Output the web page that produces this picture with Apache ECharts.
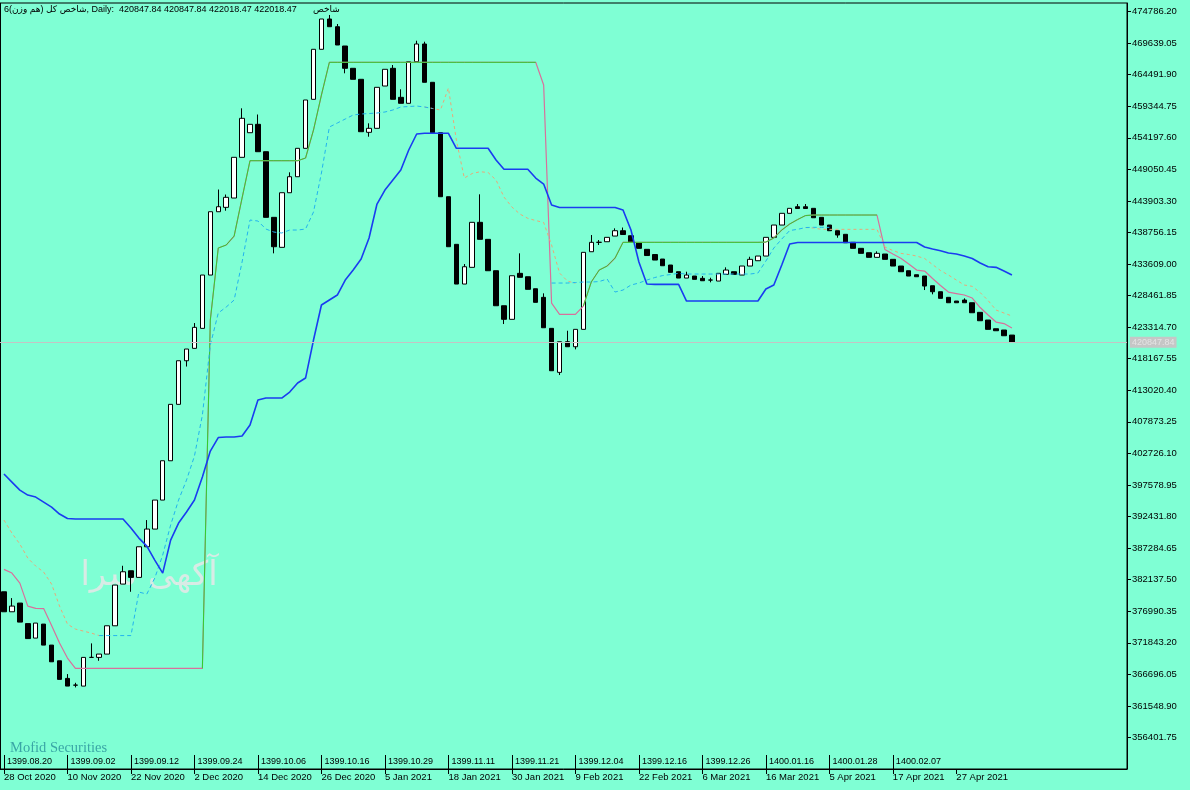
<!DOCTYPE html>
<html>
<head>
<meta charset="utf-8">
<script src="https://cdn.jsdelivr.net/npm/echarts/dist/echarts.min.js"></script>
<style>
html,body{margin:0;padding:0;background:#7fffd4;}
#chart{width:1190px;height:790px;}
</style>
</head>
<body>
<div id="chart"></div>
<script>
// ---------------- DATA ----------------
const gregLabels = ['28 Oct 2020','10 Nov 2020','22 Nov 2020','2 Dec 2020','14 Dec 2020','26 Dec 2020','5 Jan 2021','18 Jan 2021','30 Jan 2021','9 Feb 2021','22 Feb 2021','6 Mar 2021','16 Mar 2021','5 Apr 2021','17 Apr 2021','27 Apr 2021'];
const persianLabels = ['1399.08.20','1399.09.02','1399.09.12','1399.09.24','1399.10.06','1399.10.16','1399.10.29','1399.11.11','1399.11.21','1399.12.04','1399.12.16','1399.12.26','1400.01.16','1400.01.28','1400.02.07'];
const BARS_PER_LABEL = 8;
const SLOT_COUNT = 142;

const opens = [380156,376894,378313,374969,372604,374888,371462,368902,366031,364938,
364775,369456,369456,369995,374610,381412,383581,382504,387495,390382,
395112,401522,410721,417832,419854,423116,431809,442134,442851,444368,
451006,455019,456389,451920,441220,436327,445233,447842,452474,460466,
468621,473563,472307,469159,465522,463728,455084,455736,462635,465522,
460792,459814,466599,469486,463239,455019,444580,436817,430342,433065,
440405,437632,432511,426802,424584,432087,431532,429575,428172,423116,
415940,420931,420115,422953,435610,437143,437241,438170,439035,438219,
437029,436001,435153,434419,433441,432348,431320,431646,431271,430994,
430831,431924,432348,431809,433277,434142,434908,437958,439964,441873,
442949,442949,442688,441220,439964,439035,438448,437143,436164,435447,
434696,435235,434370,433277,432511,431858,431646,430064,429086,428172,
427569,427732,427292,425726,424470,423051,422839,422018.47];
const highs = [380156,379128,378313,374969,375051,374888,371462,368902,366733,365314,
369456,371740,369995,374610,381249,384396,383581,387495,391850,395112,
401522,410721,417832,419740,423981,431809,442134,445754,444939,451006,
458998,456389,457987,451920,441220,445233,448560,452474,460352,468621,
473563,474216,472748,469159,465522,463728,456552,462423,465359,466060,
462097,466599,470024,469861,463239,455019,444580,436817,433604,440405,
444972,437632,432511,426802,431695,435349,431532,429575,428825,423116,
420931,422725,422953,435512,438334,437518,437958,439426,439557,438219,
437029,436001,435153,434419,433441,432348,432348,431646,431646,431369,
432087,433065,432348,433277,434794,434908,437958,439964,441873,442688,
443390,443390,442688,441220,439964,439035,438448,437143,436164,435447,
435675,435235,434370,433277,432511,431858,431646,430064,429086,428172,
427569,428009,427292,425726,424470,423051,422839,422018.47];
const lows = [376894,376894,375214,372523,372604,371462,368739,365868,364775,364563,
364775,369456,368902,369995,374610,381412,380156,382504,387495,390382,
395112,401522,410721,416886,419854,423116,431809,442134,442297,444368,
451006,455019,451920,441220,435349,436327,445233,447842,452474,460466,
468621,472307,469322,464707,463728,455182,454366,455736,462635,460466,
459814,459814,466599,463239,455019,444580,436425,430342,430342,433065,
437632,432511,426802,423818,424584,431434,429477,427357,423214,416201,
415500,420115,419691,422953,435610,436703,437241,438170,438415,437192,
436164,434990,434256,433326,432250,431320,431320,431108,430880,430619,
430831,431924,431924,431809,433277,434142,434908,437958,439964,441873,
442656,442656,441154,439964,439035,437893,437078,436164,435349,434696,
434696,434370,433277,432348,431646,431532,429363,428662,428009,427292,
427292,427292,425661,424356,422953,422725,421909,420847.84];
const closes = [376894,377823,375214,372523,375051,371462,368739,365868,364775,364930,
369456,369456,369995,374610,381249,383418,382504,387495,390382,395112,
401522,410721,417832,419740,423279,431809,442134,442949,444482,451006,
457367,456389,451920,441220,436425,445233,447842,452474,460352,468621,
473563,472307,469322,465522,463728,455182,455736,462423,465359,460466,
459814,466599,469486,463239,455019,444580,436425,430342,433163,440405,
437632,432511,426802,424584,431695,431434,429477,427357,423214,416201,
420931,420115,422953,435512,437143,437150,437958,439035,438415,437192,
436164,434990,434256,433326,432250,431320,431809,431108,430880,430990,
432087,432625,431924,433277,434370,434908,437958,439964,441873,442688,
442656,442656,441154,439964,439035,438334,437078,436164,435349,434696,
435349,434370,433277,432348,431646,431532,430015,429086,428009,427292,
427292,427292,425661,424356,422953,422725,421909,420847.84];
const lastPrice = 420847.84;

// Indicator lines (one value per bar, null where the line is not drawn)
const blueLine = [399353,398048,396743,395928,395601,394786,393970,392829,392095,392013,
392013,392013,392013,392013,392013,392013,390545,388914,387609,385326,
383206,388588,391361,393155,395112,398863,403104,405306,405387,405387,
405550,407345,411422,411748,411748,411748,412727,414195,415010,421208,
426916,427732,428548,430994,432625,434419,437844,443390,445673,447304,
448935,452197,454807,454921,454921,454921,454921,452474,452474,452474,
452474,452474,450566,449049,449049,449049,449049,447630,446652,443227,
442819,442819,442819,442819,442819,442819,442819,442819,442411,439149,
433930,430342,430293,430293,430293,430293,427569,427569,427569,427569,
427569,427569,427569,427569,427569,427569,429526,430179,433441,436866,
437110,437110,437110,437110,437110,437110,437110,437110,437110,437110,
437110,437110,437110,437110,437110,437110,436376,436050,435773,435398,
435235,434908,434501,433767,433163,433065,432462,431809];
const pinkLine = [383809,383206,381575,377823,377448,377416,374643,371789,369342,367661,
367661,367661,367661,367661,367661,367661,367661,367661,367661,367661,
367661,367661,367661,367661,367661,367661,424470,436213,436703,438170,
444368,450452,450452,450452,450452,450452,450452,450452,450892,455459,
461167,466501,466501,466501,466501,466501,466501,466501,466501,466501,
466501,466501,466501,466501,466501,466501,466501,466501,466501,466501,
466501,466501,466501,466501,466501,466501,466501,466501,462798,427243,
425400,425400,425400,426753,430668,432625,433277,434582,437143,437143,
437143,437143,437143,437143,437143,437143,437143,437143,437143,437143,
437143,437143,437143,437143,437143,437143,437192,437844,439149,440128,
440861,441514,441596,441596,441596,441596,441596,441596,441596,441596,
441596,435968,435235,434533,433604,432625,432462,431239,430097,429037,
428792,428548,428058,426509,425286,424144,423899,423165];
const greenLine = [null,null,null,null,null,null,null,null,null,null,
null,null,null,null,null,null,null,null,null,null,
null,null,null,null,null,367661,424470,436213,436703,438170,
444368,450452,450452,450452,450452,450452,450452,450452,450892,455459,
461167,466501,466501,466501,466501,466501,466501,466501,466501,466501,
466501,466501,466501,466501,466501,466501,466501,466501,466501,466501,
466501,466501,466501,466501,466501,466501,466501,466501,null,null,
null,null,null,426753,430668,432625,433277,434582,437143,437143,
437143,437143,437143,437143,437143,437143,437143,437143,437143,437143,
437143,437143,437143,437143,437143,437143,437192,437844,439149,440128,
440861,441514,441596,441596,441596,441596,441596,441596,441596,441596,
441596,null,null,null,null,null,null,null,null,null,
null,null,null,null,null,null,null,null];
const cyanLine = [null,null,null,null,null,null,null,null,null,null,
null,null,373012,373012,373012,373012,373012,380107,379781,382390,
386141,391034,395112,398374,402288,408975,420392,425612,426590,427732,
433930,440780,440617,439312,438823,438660,439149,439149,439312,442085,
448446,455948,456601,457253,457906,458069,458150,458232,458395,458721,
459210,459292,459373,459210,458966,null,null,null,null,null,
null,null,null,null,null,null,null,null,null,430505,
430505,430505,430586,430668,430668,430749,431157,429037,429363,430179,
430505,430994,431402,431728,431891,432087,431973,431973,431973,431973,
431973,431973,431973,431973,431973,432136,434093,436213,437681,439067,
439263,439557,439589,439589,439589,null,null,null,null,null,
null,null,null,null,null,null,null,null,null,null,
null,null,null,null,null,null,null,null];
const tanLine = [391850,389730,387936,385652,384347,383369,381412,377823,374888,374072,
373746,373420,373012,null,null,null,null,null,null,null,
null,null,null,null,null,null,null,null,null,null,
null,null,null,null,null,null,null,null,null,null,
null,null,null,null,null,null,null,null,null,null,
null,null,null,459210,458966,458721,462309,453828,447630,448364,
448658,448527,447304,444531,442900,441759,441057,440698,440372,436703,
432136,430831,430456,null,null,null,null,null,null,null,
null,null,null,null,null,null,null,null,null,null,
null,null,null,null,null,null,null,null,null,null,
null,439557,439475,439263,439263,439263,439263,439263,439263,439263,
439263,436376,435805,435349,435153,434908,434501,433522,432543,431809,
430994,430179,429966,428955,427650,426101,425612,425122];

const yMin = 351254.6, yMax = 476172.6, yStep = 5147.15;

// ---------------- CHART ----------------
const slots = Array.from({length: SLOT_COUNT}, (_, i) => String(i));
const candleData = opens.map((o, i) => [o, closes[i], lows[i], highs[i]]);
const FONT = '"Liberation Sans", Arial, "DejaVu Sans", sans-serif';

const gregShow = (i) => i % BARS_PER_LABEL === 0 && i / BARS_PER_LABEL < gregLabels.length;
const persShow = (i) => i % BARS_PER_LABEL === 0 && i / BARS_PER_LABEL < persianLabels.length;

function lineSeries(data, color, width, type) {
  return {
    type: 'line', data: data, symbol: 'none', silent: true, animation: false,
    connectNulls: false,
    lineStyle: {color: color, width: width, type: type},
    z: 3
  };
}

const chart = echarts.init(document.getElementById('chart'), null, {renderer: 'canvas'});
chart.setOption({
  animation: false,
  backgroundColor: '#7fffd4',
  grid: {left: -1.4, right: 63, top: 3, bottom: 21, show: true, borderColor: '#000', borderWidth: 1, backgroundColor: 'transparent'},
  xAxis: [{
    type: 'category', data: slots, position: 'bottom', boundaryGap: true,
    axisLine: {show: true, lineStyle: {color: '#000', width: 1}},
    axisTick: {show: true, alignWithLabel: true, length: 5, interval: gregShow, lineStyle: {color: '#000'}},
    axisLabel: {show: true, interval: gregShow, formatter: (v, i) => gregLabels[i / BARS_PER_LABEL],
      align: 'left', margin: 3, color: '#000', fontSize: 9.5, fontFamily: FONT},
    splitLine: {show: false}
  }, {
    type: 'category', data: slots, position: 'bottom', offset: 0, boundaryGap: true,
    axisLine: {show: false},
    axisTick: {show: true, inside: true, alignWithLabel: true, length: 14, interval: persShow, lineStyle: {color: '#000'}},
    axisLabel: {show: true, inside: true, interval: persShow, formatter: (v, i) => persianLabels[i / BARS_PER_LABEL],
      align: 'left', margin: 3, padding: [0, 0, 0, 3], color: '#000', fontSize: 9, fontFamily: FONT},
    splitLine: {show: false}
  }],
  yAxis: {
    type: 'value', position: 'right', min: yMin, max: yMax, interval: yStep,
    axisLine: {show: true, lineStyle: {color: '#000', width: 1}},
    axisTick: {show: true, length: 4, lineStyle: {color: '#000'}},
    axisLabel: {showMinLabel: false, showMaxLabel: false, formatter: (v) => v.toFixed(2),
      margin: 5, color: '#000', fontSize: 9.5, fontFamily: FONT},
    splitLine: {show: false}
  },
  series: [
    {
      type: 'candlestick', data: candleData, barWidth: 5, silent: true, z: 2,
      itemStyle: {color: '#ffffff', color0: '#000000', borderColor: '#000000', borderColor0: '#000000', borderWidth: 1},
      markLine: {
        silent: true, symbol: ['none', 'none'], animation: false,
        data: [{yAxis: lastPrice}],
        lineStyle: {color: '#c4c4c4', type: 'solid', width: 1},
        label: {show: true, position: 'end', distance: 3, formatter: () => lastPrice.toFixed(2),
          backgroundColor: '#c6c6c6', color: '#e4e4e4', padding: [1, 2], fontSize: 9, fontFamily: FONT}
      }
    },
    lineSeries(pinkLine, '#d8709c', 1.2, 'solid'),
    lineSeries(greenLine, '#2ed02e', 1, 'solid'),
    lineSeries(tanLine, '#eaa878', 1, [3, 3]),
    lineSeries(cyanLine, '#22b4ee', 1, [4, 3]),
    lineSeries(blueLine, '#1a3cf0', 1.6, 'solid')
  ],
  graphic: [
    {type: 'line', silent: true, shape: {x1: 0.5, y1: 3, x2: 0.5, y2: 769}, style: {stroke: '#000', lineWidth: 1}},
    {type: 'text', silent: true, x: 4, y: 10, style: {text: 'شاخص کل (هم وزن)6, Daily:  420847.84 420847.84 422018.47 422018.47',
      font: '9px "Liberation Sans", "DejaVu Sans", sans-serif', fill: '#000', align: 'left', verticalAlign: 'middle'}},
    {type: 'text', silent: true, x: 313, y: 10, style: {text: 'شاخص',
      font: '9px "DejaVu Sans", sans-serif', fill: '#000', align: 'left', verticalAlign: 'middle'}},
    {type: 'text', silent: true, x: 149, y: 576, style: {text: 'آکهی سرا',
      font: '34px "DejaVu Sans", sans-serif', fill: 'rgba(232,232,232,0.85)', align: 'center', verticalAlign: 'middle'}},
    {type: 'text', silent: true, x: 10, y: 748, style: {text: 'Mofid Securities',
      font: '14.5px "Liberation Serif", "Times New Roman", serif', fill: '#3aa6a6', align: 'left', verticalAlign: 'middle'}}
  ]
});
</script>
</body>
</html>
